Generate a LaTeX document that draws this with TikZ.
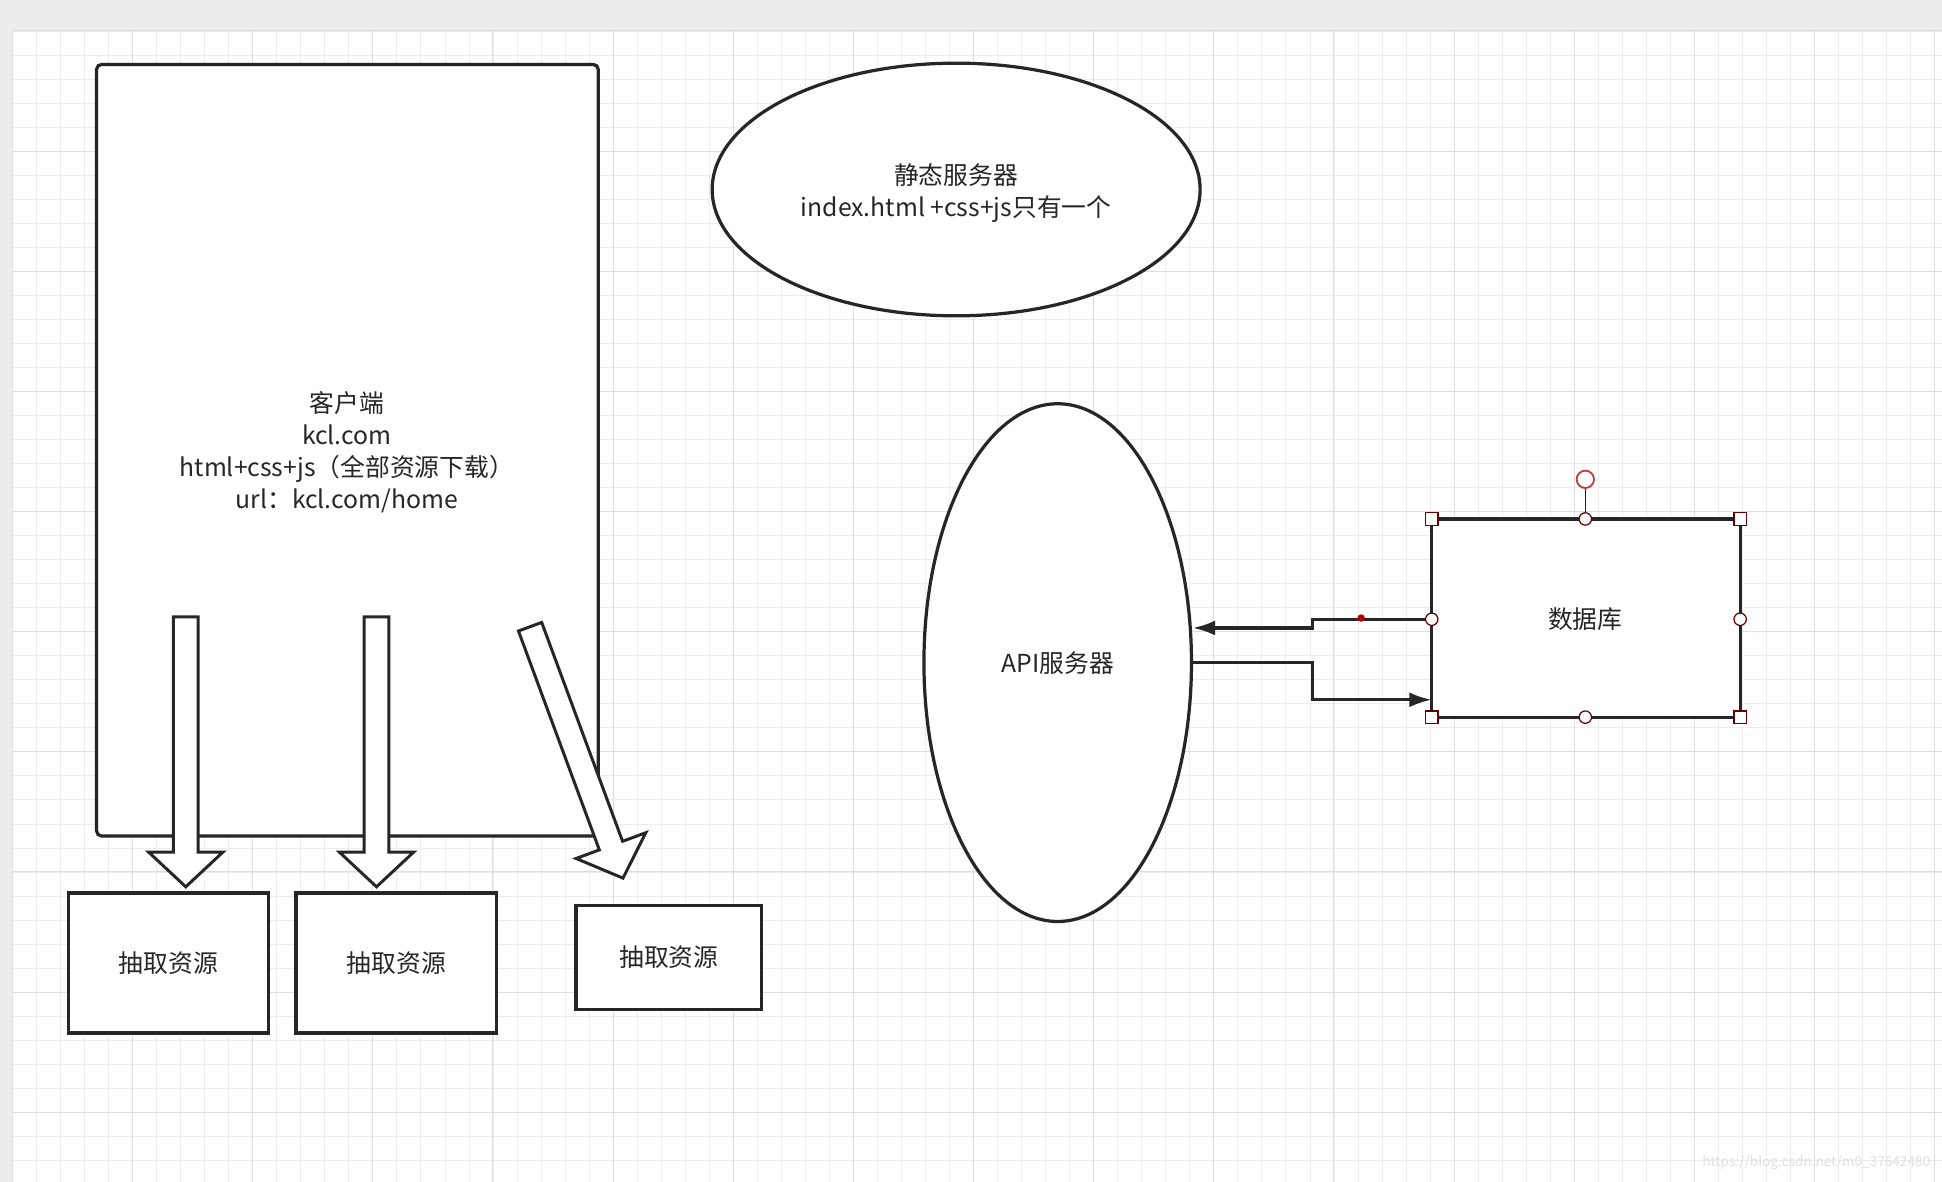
\documentclass[tikz,border=0pt]{standalone}
\usepackage{fontspec}
\setmainfont{Noto Sans CJK SC}
\usetikzlibrary{calc,arrows.meta,shapes.geometric}
\begin{document}
\begin{tikzpicture}[x=1pt,y=-1pt,
  shp/.style={draw=black!85,line width=2.6pt,fill=white},
  lbl/.style={font=\fontsize{20}{26}\selectfont,align=center,text=black!85},
  conn/.style={draw=black!85,line width=2.6pt},
  hnd/.style={draw=red!40!black,fill=white,line width=1pt}]
\useasboundingbox (0,0) rectangle (1568,954);
\fill[black!7] (0,0) rectangle (1568,954);
\fill[white] (10,25) rectangle (1568,954);
\foreach \i in {0,...,79}{
  \pgfmathsetmacro\xx{10+19.4*\i}
  \draw[black!7,line width=0.6pt] (\xx,25) -- (\xx,954);}
\foreach \i in {0,...,48}{
  \pgfmathsetmacro\yy{25+19.4*\i}
  \draw[black!7,line width=0.6pt] (10,\yy) -- (1568,\yy);}
\foreach \i in {0,5,...,80}{
  \pgfmathsetmacro\xx{10+19.4*\i}
  \draw[black!13,line width=0.8pt] (\xx,25) -- (\xx,954);}
\foreach \i in {0,5,...,45}{
  \pgfmathsetmacro\yy{25+19.4*\i}
  \draw[black!13,line width=0.8pt] (10,\yy) -- (1568,\yy);}

% client
\draw[shp,rounded corners=4pt] (78,52) rectangle (483,675);
\node[lbl] (client) at (280,365) {客户端\\kcl.com\\html+css+js（全部资源下载）\\url：kcl.com/home};

% static server
\node[shp,ellipse,minimum width=394,minimum height=204] (static) at (772,153) {};
\node[lbl] (stext) at (772,156) {静态服务器\\index.html +css+js只有一个};
% api
\node[shp,ellipse,minimum width=216,minimum height=418] (api) at (854,535) {};
\node[lbl] at (854,535) {API服务器};

% db
\draw[shp] (1156,419) rectangle (1405,579);
\node[lbl] (db) at (1280,500) {数据库};
\coordinate (dbw1) at (1156,500);
\coordinate (dbw2) at (1156,565);
\coordinate (apie1) at (963,507);
\coordinate (apie2) at (963,535);
\draw[conn,-{Latex[length=18pt,width=12pt]}] (dbw1) -- (1060,500) -- (1060,507) -- (apie1);
\draw[conn,-{Latex[length=18pt,width=12pt]}] (apie2) -- (1060,535) -- (1060,565) -- (dbw2);
\fill[red!70!black] (1099,499) circle (3);
\draw[red!40!black,line width=1pt] (1280,394) -- (1280,419);
\draw[hnd,draw=red!50!gray,line width=1.5pt] (1280,387) circle (7);
\foreach \p in {(1156,419),(1405,419),(1156,579),(1405,579)}
  \draw[hnd] \p ++(-5,-5) rectangle ++(10,10);
\foreach \p in {(1280,419),(1280,579),(1156,500),(1405,500)}
  \draw[hnd] \p circle (5);

% boxes
\draw[shp] (55,721) rectangle (217,834);
\node[lbl] (b1) at (136,778) {抽取资源};
\draw[shp] (239,721) rectangle (401,834);
\node[lbl] (b2) at (320,778) {抽取资源};
\draw[shp] (465,731) rectangle (615,815);
\node[lbl] (b3) at (540,773) {抽取资源};

% block arrows
\newcommand\blkarrow[2]{%
  \coordinate (A) at #1; \coordinate (B) at #2;
  \coordinate (H) at ($(B)!28pt!(A)$);
  \draw[shp,line width=2.4pt,line join=miter]
   ($(A)!10pt!90:(B)$) -- ($(H)!10pt!-90:(A)$) -- ($(H)!30pt!-90:(A)$) -- (B)
   -- ($(H)!30pt!90:(A)$) -- ($(H)!10pt!90:(A)$) -- ($(A)!10pt!-90:(B)$) -- cycle;}
\blkarrow{(150,498)}{(150,716)}
\blkarrow{(304,498)}{(304,716)}
\blkarrow{(428,506)}{(503,709)}

\node[font=\fontsize{11}{13}\selectfont,text=black!12,anchor=south east] (wm) at (1562,948) {https://blog.csdn.net/m0\_37642480};
\end{tikzpicture}
\end{document}
